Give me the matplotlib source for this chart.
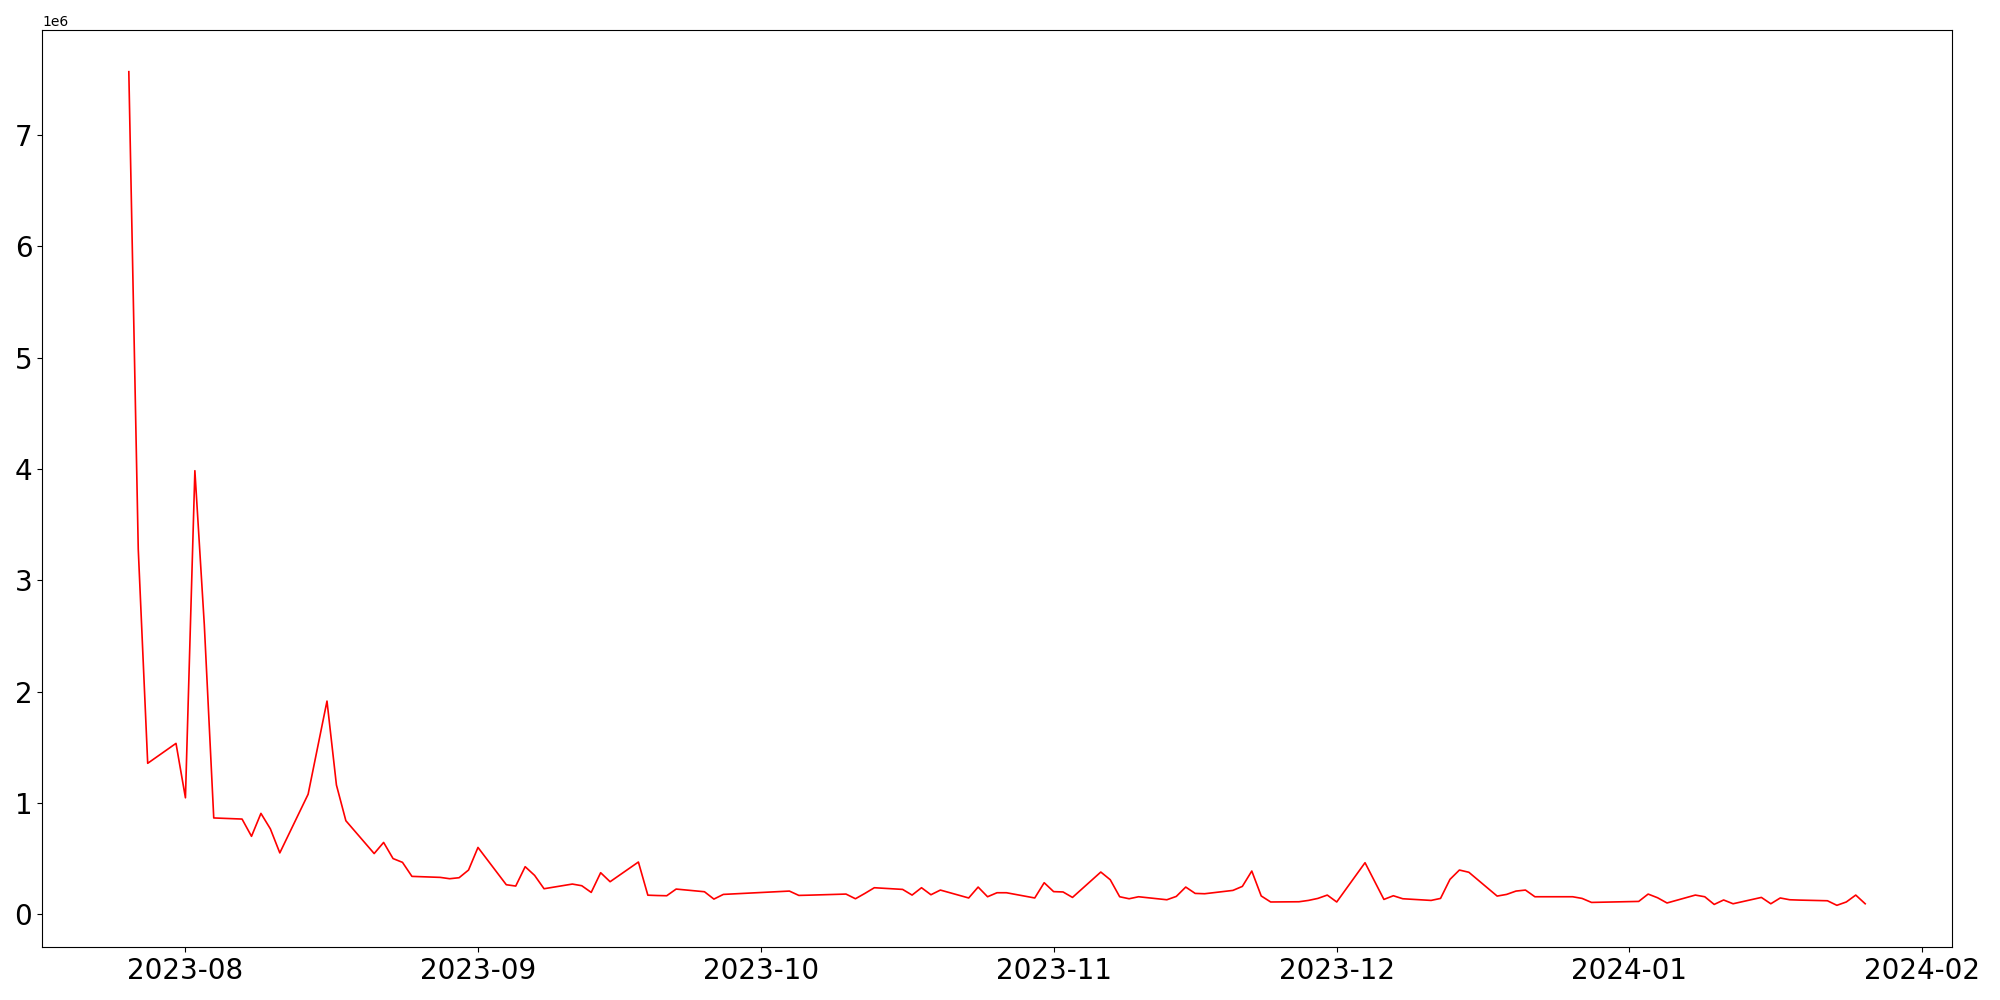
import pandas as pd
import matplotlib
matplotlib.use("Agg")
import matplotlib.pyplot as plt

# trading days (KRX), holidays removed
holidays = ["2023-08-15", "2023-09-28", "2023-09-29", "2023-10-02", "2023-10-03",
            "2023-10-09", "2023-12-25", "2023-12-29", "2024-01-01"]
dates = pd.bdate_range("2023-07-26", "2024-01-26", freq="C", holidays=holidays)

# values in millions
jul = [7.57, 3.28, 1.356, 1.535]
aug = [1.046, 3.985, 2.60, 0.865,
       0.855, 0.70, 0.906, 0.767, 0.551,
       1.078, 1.915, 1.161, 0.840,
       0.545, 0.645, 0.50, 0.466, 0.340,
       0.331, 0.319, 0.328, 0.397]
sep = [0.600,
       0.265, 0.253, 0.427, 0.349, 0.229,
       0.271, 0.256, 0.196, 0.373, 0.292,
       0.469, 0.171, 0.168, 0.166, 0.226,
       0.202, 0.136, 0.178]
oct_ = [0.208, 0.169, 0.171,
        0.181, 0.139, 0.187, 0.238,
        0.223, 0.172, 0.238, 0.175, 0.217,
        0.146, 0.244, 0.157, 0.193, 0.193,
        0.146, 0.283]
nov = [0.203, 0.200, 0.151,
       0.379, 0.310, 0.157, 0.139, 0.157,
       0.130, 0.160, 0.244, 0.187, 0.184,
       0.214, 0.250, 0.388, 0.164, 0.110,
       0.112, 0.124, 0.142, 0.172]
dec = [0.110,
       0.463, 0.298, 0.133, 0.166, 0.139,
       0.124, 0.142, 0.313, 0.397, 0.377,
       0.163, 0.178, 0.208, 0.217, 0.157,
       0.157, 0.142, 0.106]
jan = [0.115, 0.181, 0.148, 0.101,
       0.172, 0.157, 0.088, 0.128, 0.094,
       0.151, 0.094, 0.146, 0.130, 0.127,
       0.121, 0.080, 0.110, 0.172, 0.094]

values = [v * 1e6 for v in jul + aug + sep + oct_ + nov + dec + jan]

fig, ax = plt.subplots(figsize=(20, 10), dpi=100)
ax.plot(dates, values, color="red", linewidth=1.2)
ax.tick_params(axis="both", labelsize=20)
fig.subplots_adjust(left=0.021, right=0.976, top=0.97, bottom=0.053)
fig.savefig("out.png")
